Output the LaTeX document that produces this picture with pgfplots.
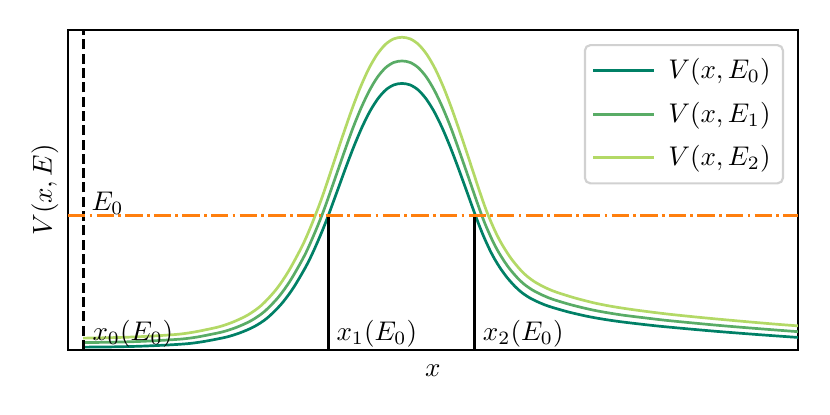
\documentclass[border=0pt]{standalone}
\usepackage{pgfplots}
\usepackage{pgfplotstable}
\pgfplotsset{compat=1.18}
\definecolor{cA}{HTML}{008066}
\definecolor{cB}{HTML}{59AC66}
\definecolor{cC}{HTML}{B3D966}
\definecolor{corange}{HTML}{FF7F0E}
\pgfplotstableread{
x y
83 2.7
110 2.9
140 3.6
167 4.8
187 6.1
200 7.7
213 10.0
227 12.9
240 17.0
254 23.1
267 31.6
281 45.4
293 61.4
306 83.4
314 99.8
322 118.3
328 133.5
338 160.8
346 182.8
354 203.7
362 222.6
370 238.7
378 251.3
386 260.2
394 265.1
402 266.5
410 265.1
418 260.2
426 251.3
434 238.7
442 222.6
450 203.7
458 182.8
466 160.8
476 133.1
483 115.1
490 99.7
495 90.3
500 82.2
507 72.5
515 63.5
522 57.2
530 51.9
540 47.0
550 43.2
568 38.0
587 33.6
603 30.7
620 28.2
640 25.8
660 23.6
690 20.8
720 18.2
760 15.1
798 12.4
}\vzero
\pgfplotstableread{
x y
83 7.3
104.2 7.5
134.8 8.2
162.3 9.5
182.7 10.9
196.0 12.6
209.2 15.1
223.5 18.2
236.8 22.6
251.0 29.1
264.3 38.2
278.6 52.9
290.8 70.0
304.1 93.5
312.2 111.0
320.4 130.7
326.5 147.0
336.7 176.1
344.9 199.6
353.0 222.0
361.2 242.1
369.4 259.3
377.5 272.8
385.7 282.3
393.8 287.5
402 289.0
410.2 287.5
418.3 282.3
426.5 272.8
434.6 259.3
442.8 242.1
451.0 222.0
459.1 199.6
467.3 176.1
477.5 146.6
484.6 127.3
491.8 110.9
496.9 100.8
502.0 92.2
509.1 81.8
517.3 72.2
524.4 65.5
532.6 59.8
542.8 54.6
553.0 50.5
571.3 45.0
590.7 40.3
607.0 37.2
624.4 34.5
644.8 32.0
665.2 29.6
695.8 26.6
726.4 23.8
767.2 20.5
805.9 17.6
}\vone
\pgfplotstableread{
x y
83 11.7
98.3 11.9
129.5 12.7
157.6 14.1
178.4 15.6
191.9 17.4
205.4 20.0
220.0 23.3
233.5 28.0
248.1 35.0
261.6 44.7
276.2 60.4
288.6 78.7
302.2 103.8
310.5 122.5
318.8 143.6
325.0 160.9
335.4 192.1
343.8 217.2
352.1 241.0
360.4 262.6
368.7 281.0
377.0 295.3
385.4 305.5
393.7 311.1
402 312.7
410.3 311.1
418.6 305.5
427.0 295.3
435.3 281.0
443.6 262.6
451.9 241.0
460.2 217.2
468.6 192.1
479.0 160.5
486.2 139.9
493.5 122.4
498.7 111.6
503.9 102.4
511.2 91.3
519.5 81.1
526.8 73.9
535.1 67.8
545.5 62.2
555.9 57.9
574.6 52.0
594.4 46.9
611.0 43.6
628.7 40.8
649.5 38.0
670.3 35.5
701.5 32.3
732.7 29.4
774.3 25.8
813.8 22.8
}\vtwo
\begin{document}
\begin{tikzpicture}
\useasboundingbox (-25.2pt,-24.1pt) rectangle (282.3pt,129.6pt);
\begin{axis}[
  at={(0,0)}, anchor=south west,
  scale only axis, width=270.4pt, height=118.5pt,
  xmin=68, xmax=798, ymin=0, ymax=320,
  xtick=\empty, ytick=\empty,
  axis line style={line width=0.8pt},
  xlabel={$x$}, ylabel={$V(x,E)$},
  xlabel style={at={(axis description cs:0.5,0)}, anchor=north, yshift=-2pt},
  ylabel style={at={(axis description cs:0,0.5)}, anchor=south},
  legend style={at={(axis description cs:0.981,0.956)}, anchor=north east,
    draw=black!18, rounded corners=2pt, fill=white, line width=0.8pt,
    inner xsep=2.6pt, inner ysep=3pt, row sep=3.1pt,
    nodes={inner sep=2pt},
    /tikz/every odd column/.append style={column sep=2.7pt}},
  legend cell align=left,
  legend image code/.code={\draw[line width=1.1pt] plot coordinates {(0pt,0pt) (22.5pt,0pt)};},
]
\addplot[cA, line width=1pt, smooth, tension=0.5] table[x=x, y=y] {\vzero};
\addlegendentry{$V(x,E_0)$}
\addplot[cB, line width=1pt, smooth, tension=0.5] table[x=x, y=y] {\vone};
\addlegendentry{$V(x,E_1)$}
\addplot[cC, line width=1pt, smooth, tension=0.5] table[x=x, y=y] {\vtwo};
\addlegendentry{$V(x,E_2)$}
\addplot[forget plot, black, line width=1.1pt, dash pattern=on 3.7pt off 1.6pt] coordinates {(83,0) (83,320)};
\addplot[forget plot, corange, line width=1.1pt, dash pattern=on 6.4pt off 1.6pt on 1pt off 1.6pt] coordinates {(68,134.5) (798,134.5)};
\addplot[forget plot, black, line width=1.1pt] coordinates {(329,0) (329,133)};
\addplot[forget plot, black, line width=1.1pt] coordinates {(475,0) (475,133)};
\node[anchor=base west, inner sep=0pt] at (axis cs:91,139.5) {$E_0$};
\node[anchor=base west, inner sep=0pt] at (axis cs:92,9) {$x_0(E_0)$};
\node[anchor=base west, inner sep=0pt] at (axis cs:336,9) {$x_1(E_0)$};
\node[anchor=base west, inner sep=0pt] at (axis cs:482.5,9) {$x_2(E_0)$};
\end{axis}
\end{tikzpicture}
\end{document}
